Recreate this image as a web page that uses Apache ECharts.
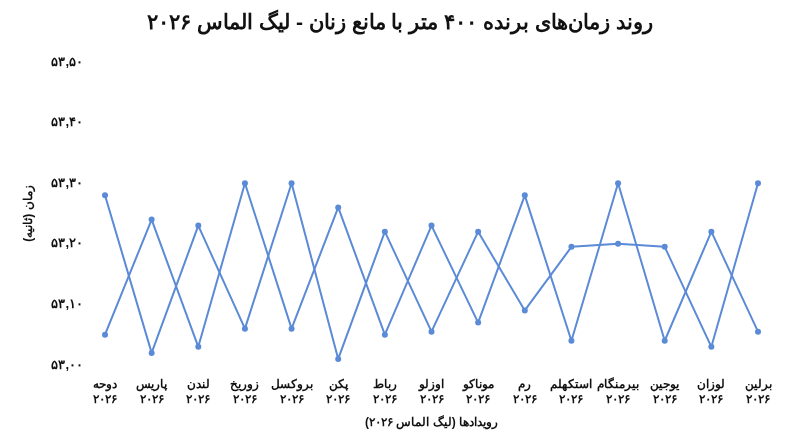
<!DOCTYPE html><html><head><meta charset="utf-8"><script src="https://cdn.jsdelivr.net/npm/echarts@6/dist/echarts.min.js"></script></head><body style="margin:0"><div id="c" style="width:800px;height:447px"></div><script>
const categories=['دوحه','پاریس','لندن','زوریخ','بروکسل','پکن','رباط','اوزلو','موناکو','رم','استکهلم','بیرمنگام','یوجین','لوزان','برلین'];
const seriesA=[53.28,53.02,53.23,53.06,53.30,53.01,53.22,53.055,53.22,53.09,53.195,53.20,53.195,53.03,53.30];
const seriesB=[53.05,53.24,53.03,53.30,53.06,53.26,53.05,53.23,53.07,53.28,53.04,53.30,53.04,53.22,53.055];
const fa=s=>String(s).replace(/\d/g,d=>'۰۱۲۳۴۵۶۷۸۹'[d]);
const col='#5b8ad6';
const mk=d=>({type:'line',data:d,symbol:'circle',symbolSize:6,itemStyle:{color:col},lineStyle:{color:col,width:2}});
echarts.init(document.getElementById('c')).setOption({
title:{text:'روند زمان‌های برنده ۴۰۰ متر با مانع زنان - لیگ الماس ۲۰۲۶',left:'center',top:8,textStyle:{fontSize:21,fontWeight:'bold',color:'#111'}},
grid:{left:105,right:42,top:62,bottom:82},
xAxis:{type:'category',data:categories,boundaryGap:false,axisLine:{show:false},axisTick:{show:false},
 axisLabel:{interval:0,formatter:v=>v+'\n۲۰۲۶',fontWeight:'bold',fontSize:12,color:'#111',lineHeight:15,margin:12},
 name:'رویدادها (لیگ الماس ۲۰۲۶)',nameLocation:'middle',nameGap:52,nameTextStyle:{fontWeight:'bold',fontSize:12,color:'#111'}},
yAxis:{type:'value',min:53,max:53.5,interval:0.1,splitLine:{show:false},axisLine:{show:false},axisTick:{show:false},
 axisLabel:{formatter:v=>fa(v.toFixed(2).replace('.',',')),fontWeight:'bold',fontSize:13,color:'#111',margin:22},
 name:'زمان (ثانیه)',nameLocation:'middle',nameGap:70,nameRotate:90,nameTextStyle:{fontWeight:'bold',fontSize:12,color:'#111'}},
series:[mk(seriesA),mk(seriesB)]});
</script></body></html>
